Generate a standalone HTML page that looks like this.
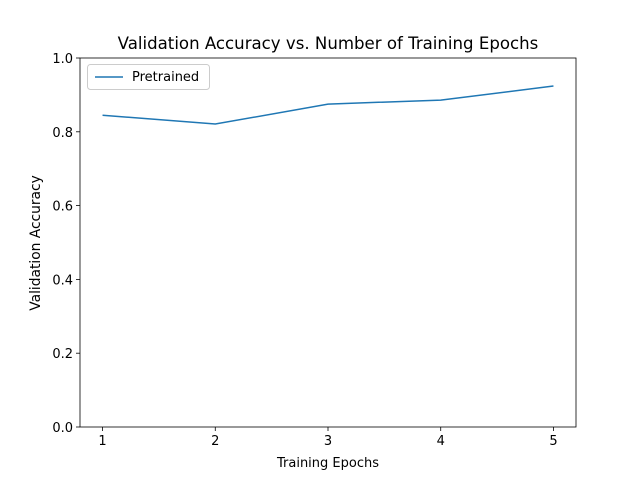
<!DOCTYPE html>
<html><head><meta charset="utf-8"><style>body{margin:0;background:#fff}svg{display:block;font-family:"DejaVu Sans","Liberation Sans",sans-serif}</style></head>
<body>
<svg id="chart" width="640" height="480"></svg>
<script>
const epochs = [1, 2, 3, 4, 5];
const accuracy = [0.845, 0.821, 0.875, 0.886, 0.924];
const xTicks = [1, 2, 3, 4, 5];
const yTicks = ["0.0", "0.2", "0.4", "0.6", "0.8", "1.0"];
const L=80,R=576,T=58,B=427;
const xs=v=>L+(v-0.8)/4.4*(R-L);
const ys=v=>B-v*(B-T);
const svg=document.getElementById('chart');
const NS='http://www.w3.org/2000/svg';
function mk(tag,attrs,txt){const e=document.createElementNS(NS,tag);for(const k in attrs)e.setAttribute(k,attrs[k]);if(txt!==undefined)e.textContent=txt;svg.appendChild(e);return e;}
let e;
e=mk('text',{x:328,y:49,'text-anchor':'middle','font-size':16.6},'Validation Accuracy vs. Number of Training Epochs');


xTicks.forEach(t=>{
 e=mk('line',{x1:xs(t),x2:xs(t),y1:B,y2:B+4,stroke:'#000','stroke-width':0.8});
 
 
 e=mk('text',{x:xs(t),y:B+18,'text-anchor':'middle','font-size':13},String(t));
 
 
});
yTicks.forEach(t=>{
 const y=ys(parseFloat(t));
 e=mk('line',{x1:L-4,x2:L,y1:y,y2:y,stroke:'#000','stroke-width':0.8});
 
 
 e=mk('text',{x:L-7,y:y+5,'text-anchor':'end','font-size':13},t);
 
 
});
e=mk('text',{x:328,y:467,'text-anchor':'middle','font-size':13},'Training Epochs');


e=mk('text',{x:40,y:243,'text-anchor':'middle','font-size':13.8,transform:'rotate(-90 40 243)'},'Validation Accuracy');


e=mk('polyline',{points:epochs.map((x,i)=>xs(x)+','+ys(accuracy[i])).join(' '),fill:'none',stroke:'#1f77b4','stroke-width':1.5});


e=mk('rect',{x:L,y:T,width:R-L,height:B-T,fill:'none',stroke:'#000','stroke-width':0.8});


e=mk('rect',{x:87.5,y:64.5,width:122,height:25,rx:3,fill:'#fff',stroke:'#ccc','stroke-width':1});


e=mk('line',{x1:95,x2:123,y1:77,y2:77,stroke:'#1f77b4','stroke-width':1.5});


e=mk('text',{x:132,y:81,'font-size':13},'Pretrained');


</script>
</body></html>
